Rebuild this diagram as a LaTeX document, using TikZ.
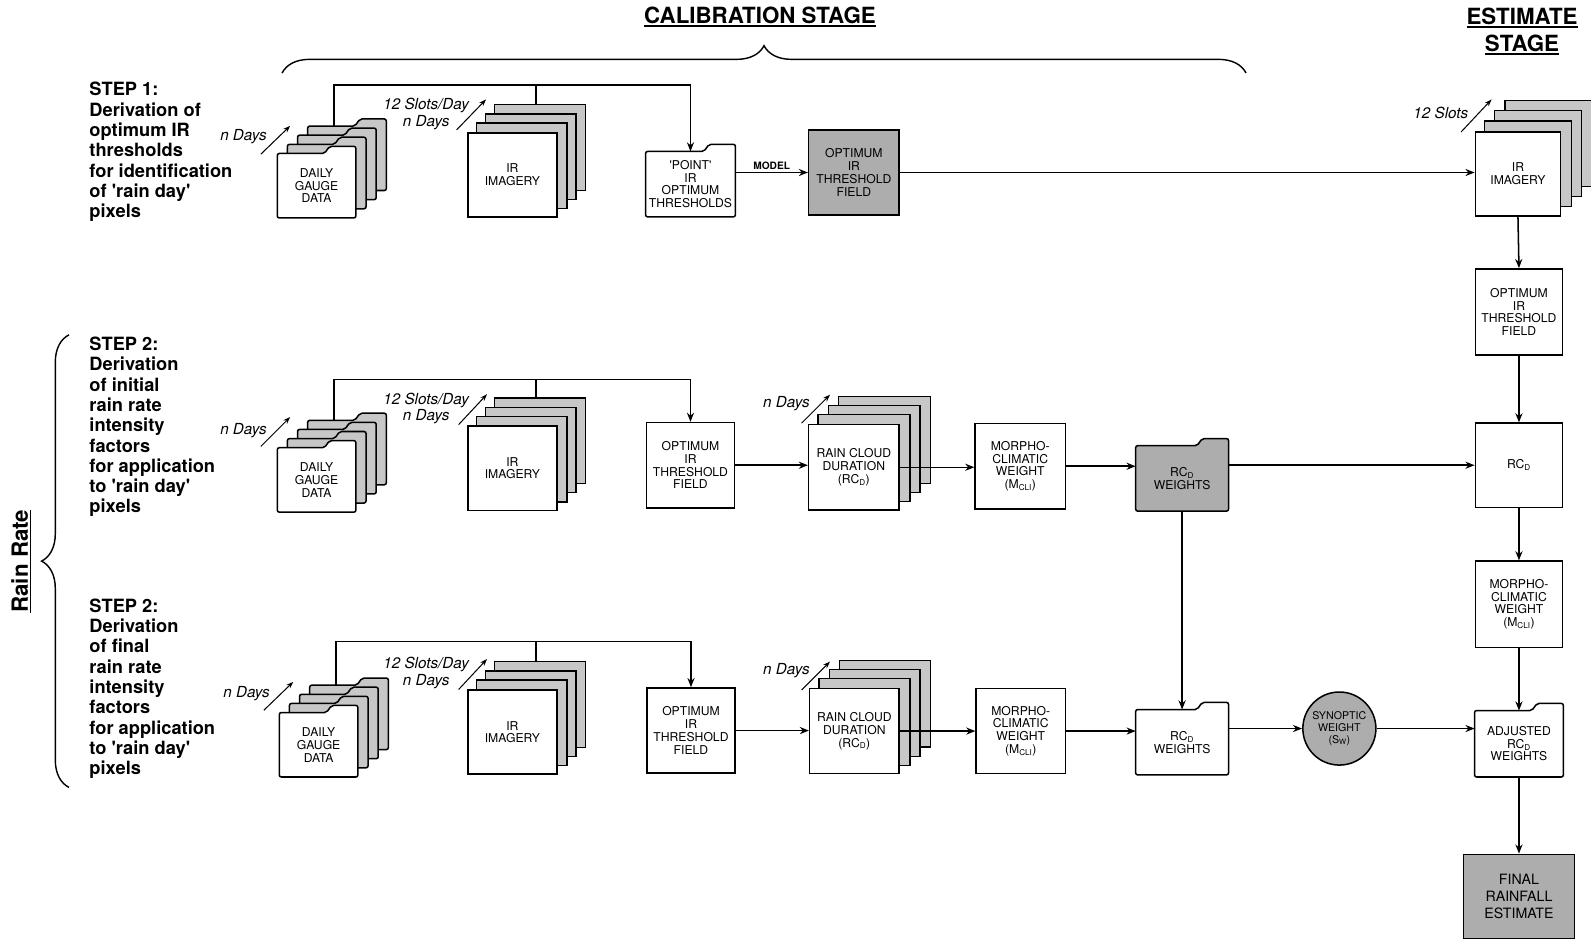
\documentclass[tikz,border=0pt]{standalone}
\usepackage{fontspec}
\setmainfont{TeX Gyre Heros}
\usetikzlibrary{arrows.meta,calc,backgrounds,decorations.pathreplacing}
\colorlet{stip}{black!22}
\colorlet{shade}{black!32}
\newcommand\boxfont{\fontsize{12}{12.6}\selectfont}
\newcommand\stepfont{\fontsize{18}{20}\selectfont\bfseries}
\newcommand\lblfont{\fontsize{15}{16.5}\selectfont\itshape}
\newcommand\ttlfont{\fontsize{22}{26}\selectfont\bfseries}
\newcommand\ulx[1]{\begingroup\setbox0\hbox{#1}\rlap{\rule[-3.5pt]{\wd0}{1.8pt}}\box0\endgroup}
\tikzset{
  box/.style={draw,line width=1.5pt,fill=white,minimum width=87pt,minimum height=84pt,inner sep=1pt,align=center,font=\boxfont},
  boxs/.style={box,fill=shade},
  fold/.style={box,draw=none,fill=none,minimum height=63pt},
  sheet/.style={draw,line width=1.2pt,fill=stip},
  steptxt/.style={anchor=north west,inner sep=0pt,align=left,font=\stepfont},
  lbl/.style={inner sep=0pt,align=center,font=\lblfont},
  ttl/.style={inner sep=0pt,align=center,font=\ttlfont},
  mdl/.style={inner sep=2pt,font=\fontsize{10}{12}\selectfont\bfseries},
  ar/.style={-{Stealth[length=9pt,width=7pt]},line width=1.5pt},
  ln/.style={line width=1.5pt},
  sar/.style={-{Stealth[length=7pt,width=5pt]},line width=1pt},
  brc/.style={decorate,decoration={brace,amplitude=27pt},line width=1.4pt},
}
% folder outline round a node, shifted by (#2,#3)
\newcommand\folder[4]{%
  \draw[line width=1.5pt,fill=#4,rounded corners=2pt]
    ($(#1.south west)+(#2,#3)$) -- ($(#1.north west)+(#2,#3)$)
    -- ($(#1.north east)+(#2-31,#3)$) -- ($(#1.north east)+(#2-26,#3-7)$)
    -- ($(#1.north east)+(#2,#3-7)$) -- ($(#1.south east)+(#2,#3)$) -- cycle;}
\newcommand\folderbg[2]{\begin{scope}[on background layer]\folder{#1}{0}{0}{#2}\end{scope}}
\newcommand\gaugestack[1]{%
  \begin{scope}[on background layer]
    \foreach \k in {3,2,1} {\folder{#1}{\k*10}{\k*-9}{stip}}
    \folder{#1}{0}{0}{white}
  \end{scope}}
\newcommand\stack[3]{%
  \begin{scope}[on background layer]
    \foreach \k in {3,2,1}
      \draw[sheet] ($(#1.south west)+(\k*#2,\k*#3)$) rectangle ($(#1.north east)+(\k*#2,\k*#3)$);
  \end{scope}}

\begin{document}
\begin{tikzpicture}[x=1pt,y=-1pt]
  \useasboundingbox (0,0) rectangle (1568,929);
  % headings
  \node[ttl] (cal) at (749,17) {\ulx{CALIBRATION STAGE}};
  \node[ttl] (est) at (1500,31) {\ulx{ESTIMATE}\\\ulx{STAGE}};
  \node[ttl,rotate=90] (rr) at (21,553) {\ulx{Rain Rate}};
  \coordinate (cb1) at (278,72);
  \coordinate (cb2) at (1228,72);
  \draw[brc] (cb1) -- (cb2);
  \coordinate (rb1) at (68,776);
  \coordinate (rb2) at (68,330);
  \draw[brc] (rb1) -- (rb2);

  % step texts
  \node[steptxt] (s1) at (88,81) {STEP 1:\\Derivation of\\optimum IR\\thresholds\\for identification\\of \textquotesingle rain day\textquotesingle\\pixels};
  \node[steptxt] (s2) at (88,332) {STEP 2:\\Derivation\\of initial\\rain rate\\intensity\\factors\\for application\\to \textquotesingle rain day\textquotesingle\\pixels};
  \node[steptxt] (s3) at (88,590) {STEP 2:\\Derivation\\of final\\rain rate\\intensity\\factors\\for application\\to \textquotesingle rain day\textquotesingle\\pixels};

  % row 1
  \node[fold,minimum width=76pt,minimum height=62pt] (g1) at (312,183) {DAILY\\GAUGE\\DATA};
  \gaugestack{g1}
  \node[box,minimum width=88pt,minimum height=83pt] (ir1) at (505,172.5) {IR\\IMAGERY};
  \stack{ir1}{9}{-9}
  \node[fold] (pt1) at (680.5,181.5) {\textquotesingle POINT\textquotesingle\\IR\\OPTIMUM\\THRESHOLDS};
  \folderbg{pt1}{white}
  \node[boxs,minimum width=89pt] (of1) at (841.5,170) {OPTIMUM\\IR\\THRESHOLD\\FIELD};
  \node[lbl] (nd1) at (240,135) {n Days};
  \draw[sar] ($(nd1)+(17,17)$) -- ++(29,-28);
  \node[lbl] (sl1) at (420,112) {12 Slots/Day\\n Days};
  \draw[sar] ($(sl1)+(30,16)$) -- ++(29,-30);
  \coordinate (bus1) at (528,84);
  \draw[ar] ($(g1.north)+(17,-27)$) |- (bus1) -| (pt1.north);
  \draw[ln] ($(ir1.north)+(23,-27)$) -- (bus1);
  \draw[ar] (pt1.east |- of1.west) -- node[mdl,above]{MODEL} (of1.west);

  % row 2
  \node[fold,minimum width=76pt,minimum height=62pt] (g2) at (312,473) {DAILY\\GAUGE\\DATA};
  \gaugestack{g2}
  \node[box,minimum width=88pt,minimum height=83pt] (ir2) at (505,461.5) {IR\\IMAGERY};
  \stack{ir2}{9}{-9}
  \node[box] (op2) at (680.5,458.5) {OPTIMUM\\IR\\THRESHOLD\\FIELD};
  \node[box,minimum width=89pt] (rc2) at (841.5,460.5) {RAIN CLOUD\\DURATION\\(RC\textsubscript{D})};
  \stack{rc2}{10}{-9}
  \node[box,minimum width=89pt] (mo2) at (1005.5,459.5) {MORPHO-\\CLIMATIC\\WEIGHT\\(M\textsubscript{CLI})};
  \node[fold,minimum width=90pt] (w2) at (1165,471.5) {RC\textsubscript{D}\\WEIGHTS};
  \folderbg{w2}{shade}
  \node[lbl] (nd2) at (240,424) {n Days};
  \draw[sar] ($(nd2)+(17,16)$) -- ++(29,-29);
  \node[lbl] (sl2) at (420,402.5) {12 Slots/Day\\n Days};
  \draw[sar] ($(sl2)+(32,16)$) -- ++(28,-30);
  \node[lbl] (rn2) at (775,398) {n Days};
  \draw[sar] ($(rn2)+(15,19)$) -- ++(28,-28);
  \coordinate (bus2) at (528,374);
  \draw[ar] ($(g2.north)+(17,-27)$) |- (bus2) -| (op2.north);
  \draw[ln] ($(ir2.north)+(23,-27)$) -- (bus2);
  \draw[ar] (op2.east) -- (rc2.west |- op2.east);
  \draw[ar] (rc2.east) -- (mo2.west |- rc2.east);
  \draw[ar] (mo2.east) -- (w2.west |- mo2.east);

  % row 3
  \node[fold,minimum width=76pt,minimum height=62pt] (g3) at (314,734) {DAILY\\GAUGE\\DATA};
  \gaugestack{g3}
  \node[box,minimum width=88pt,minimum height=83pt] (ir3) at (505,721.5) {IR\\IMAGERY};
  \stack{ir3}{9}{-9}
  \node[box] (op3) at (681,720) {OPTIMUM\\IR\\THRESHOLD\\FIELD};
  \node[box,minimum width=88pt] (rc3) at (842,720.5) {RAIN CLOUD\\DURATION\\(RC\textsubscript{D})};
  \stack{rc3}{10}{-9}
  \node[box,minimum width=88pt] (mo3) at (1006,720.5) {MORPHO-\\CLIMATIC\\WEIGHT\\(M\textsubscript{CLI})};
  \node[fold,minimum width=90pt] (w3) at (1165,731.5) {RC\textsubscript{D}\\WEIGHTS};
  \folderbg{w3}{white}
  \node[box,circle,fill=shade,minimum size=72pt,inner sep=0pt,font=\fontsize{10.5}{11.5}\selectfont] (sw) at (1320,718) {SYNOPTIC\\WEIGHT\\(S\textsubscript{W})};
  \node[lbl] (nd3) at (243,684) {n Days};
  \draw[sar] ($(nd3)+(17,16)$) -- ++(29,-28);
  \node[lbl] (sl3) at (420,663.5) {12 Slots/Day\\n Days};
  \draw[sar] ($(sl3)+(32,16)$) -- ++(28,-30);
  \node[lbl] (rn3) at (775,661) {n Days};
  \draw[sar] ($(rn3)+(15,19)$) -- ++(28,-28);
  \coordinate (bus3) at (528,632);
  \draw[ar] ($(g3.north)+(17,-27)$) |- (bus3) -| (op3.north);
  \draw[ln] ($(ir3.north)+(23,-27)$) -- (bus3);
  \draw[ar] (op3.east) -- (rc3.west |- op3.east);
  \draw[ar] (rc3.east) -- (mo3.west |- rc3.east);
  \draw[ar] (mo3.east) -- (w3.west |- mo3.east);
  \draw[ar] (w3.east |- sw.west) -- (sw.west);

  % estimate stage
  \node[box,minimum width=84pt,minimum height=83pt] (ir5) at (1496,171.5) {IR\\IMAGERY};
  \stack{ir5}{10}{-10}
  \node[lbl] (sl5) at (1420,111) {12 Slots};
  \draw[sar] ($(sl5)+(20,19)$) -- ++(30,-32);
  \node[box,minimum width=86pt,minimum height=85pt] (of5) at (1497,307.5) {OPTIMUM\\IR\\THRESHOLD\\FIELD};
  \node[box,minimum width=86pt,minimum height=83pt] (rc5) at (1497,458.5) {RC\textsubscript{D}};
  \node[box,minimum width=86pt,minimum height=85pt] (mo5) at (1497,595.5) {MORPHO-\\CLIMATIC\\WEIGHT\\(M\textsubscript{CLI})};
  \node[fold,minimum width=86pt,minimum height=64pt] (adj) at (1497,733) {ADJUSTED\\RC\textsubscript{D}\\WEIGHTS};
  \folderbg{adj}{white}
  \node[boxs,minimum width=109pt,minimum height=83pt,font=\fontsize{14}{17}\selectfont] (fin) at (1497,883.5) {FINAL\\RAINFALL\\ESTIMATE};

  % links to estimate stage
  \draw[ar] (of1.east) -- (ir5.west |- of1.east);
  \draw[ar] (w2.east |- rc5.west) -- (rc5.west);
  \draw[ar] (w2.south) -- (w3.north);
  \draw[ar] (sw.east) -- (adj.west |- sw.east);
  \draw[ar] (ir5.south) -- (of5.north);
  \draw[ar] (of5.south) -- (rc5.north);
  \draw[ar] (rc5.south) -- (mo5.north);
  \draw[ar] (mo5.south) -- (adj.north);
  \draw[ar] (adj.south) -- (fin.north);
\end{tikzpicture}
\end{document}
